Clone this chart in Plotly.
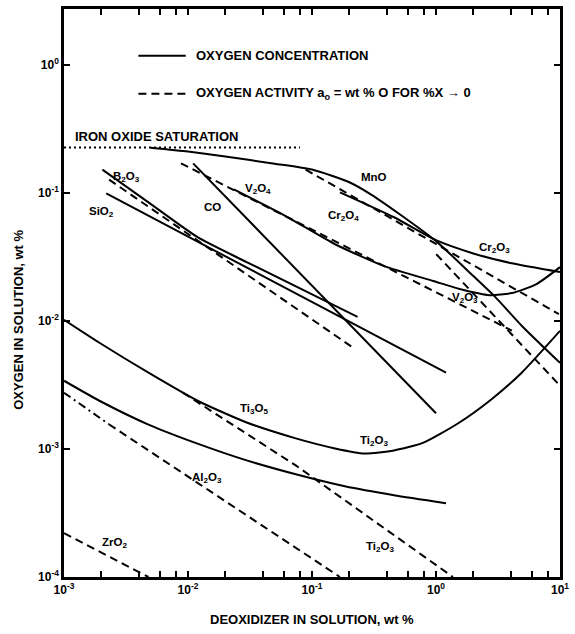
import math
import plotly.graph_objects as go

# ---------------- data (wt % deoxidizer, wt % oxygen) ----------------
fe_sat_x = [0.001, 0.08]
fe_sat_y = [0.226, 0.226]

mno_x = [0.005, 0.01, 0.02, 0.05, 0.1, 0.2, 0.3, 0.5, 1.0, 2.0, 3.0, 5.0, 10.0]
mno_y = [0.225, 0.21, 0.192, 0.169, 0.152, 0.121, 0.097, 0.069, 0.042, 0.0224, 0.0154, 0.0090, 0.0047]
mno_dash_x = [1.005, 10.0]
mno_dash_y = [0.0332, 0.00312]

cr_x = [0.168, 0.4585, 1.0, 1.97, 4.09, 10.0]
cr_y = [0.101, 0.0645, 0.0427, 0.0338, 0.0282, 0.0241]
cr_dash_x = [0.0888, 9.8]
cr_dash_y = [0.152, 0.0113]

v_x = [0.02344, 0.0617, 0.1535, 0.382, 0.951, 1.64, 2.69, 4.09, 6.46, 10.0]
v_y = [0.1064, 0.0656, 0.0397, 0.0268, 0.0205, 0.0175, 0.0159, 0.0165, 0.0194, 0.0263]
v_dash_x = [0.00877, 4.09]
v_dash_y = [0.170, 0.0084]

co_x = [0.011, 1.0]
co_y = [0.17, 0.0019]

b_x = [0.00204, 0.0048, 0.01194, 0.0297, 0.233]
b_y = [0.152, 0.0843, 0.0451, 0.0288, 0.01074]
b_dash_x = [0.00231, 0.221]
b_dash_y = [0.127, 0.00605]

si_x = [0.00219, 1.205]
si_y = [0.099, 0.00394]

ti_x = [0.001, 0.00193, 0.0048, 0.01194, 0.0297, 0.0740, 0.1535, 0.265, 0.458, 0.792, 1.50, 2.84, 4.91, 10.0]
ti_y = [0.0102, 0.00675, 0.00394, 0.00238, 0.00161, 0.00121, 0.00101, 0.000922, 0.000973, 0.00112, 0.00158, 0.00247, 0.00394, 0.00836]
ti_dash_x = [0.00908, 0.0740, 1.37]
ti_dash_y = [0.00275, 0.000744, 0.0001]

al_x = [0.001, 0.00193, 0.0048, 0.01194, 0.0297, 0.0740, 0.184, 0.458, 1.205]
al_y = [0.00341, 0.00238, 0.00155, 0.0011, 0.000814, 0.000634, 0.000511, 0.000435, 0.000377]
al_dashdot_x = [0.001, 0.0023]
al_dashdot_y = [0.00275, 0.00156]
al_dash_x = [0.0023, 0.168]
al_dash_y = [0.00156, 0.0001]

zr_dash_x = [0.001, 0.0048]
zr_dash_y = [0.00022, 0.0001]

x_major = [0.001, 0.01, 0.1, 1.0, 10.0]
x_major_text = ["10<sup>-3</sup>", "10<sup>-2</sup>", "10<sup>-1</sup>", "10<sup>0</sup>", "10<sup>1</sup>"]
x_minor = [m * 10.0 ** e for e in range(-3, 1) for m in (2, 4, 6, 8)]
y_major = [0.0001, 0.001, 0.01, 0.1, 1.0]
y_major_text = ["10<sup>-4</sup>", "10<sup>-3</sup>", "10<sup>-2</sup>", "10<sup>-1</sup>", "10<sup>0</sup>"]

labels = [
    ("B<sub>2</sub>O<sub>3</sub>", 0.00321, 0.132),
    ("SiO<sub>2</sub>", 0.0020, 0.0705),
    ("CO", 0.0157, 0.0771),
    ("V<sub>2</sub>O<sub>4</sub>", 0.037, 0.108),
    ("Cr<sub>2</sub>O<sub>4</sub>", 0.178, 0.0656),
    ("MnO", 0.318, 0.134),
    ("Cr<sub>2</sub>O<sub>3</sub>", 2.94, 0.037),
    ("V<sub>2</sub>O<sub>3</sub>", 1.71, 0.0152),
    ("Ti<sub>3</sub>O<sub>5</sub>", 0.0338, 0.00207),
    ("Ti<sub>2</sub>O<sub>3</sub>", 0.318, 0.00116),
    ("Al<sub>2</sub>O<sub>3</sub>", 0.0143, 0.000589),
    ("ZrO<sub>2</sub>", 0.00254, 0.000184),
    ("Ti<sub>2</sub>O<sub>3</sub>", 0.355, 0.000171),
]

# ---------------- figure ----------------
FONT = "Liberation Sans, Arial, sans-serif"
fig = go.Figure()

def add(x, y, dash="solid", width=2.0, name=None, shape="linear"):
    fig.add_trace(go.Scatter(x=x, y=y, mode="lines", name=name, showlegend=False,
                             line=dict(color="black", width=width, dash=dash, shape=shape, smoothing=0.6)))

add(fe_sat_x, fe_sat_y, dash="2px,3px", width=2, name="Iron oxide saturation")
solid_series = [(mno_x, mno_y, "MnO", "spline"), (cr_x, cr_y, "Cr", "spline"), (v_x, v_y, "V", "spline"),
                (co_x, co_y, "CO", "linear"), (b_x, b_y, "B2O3", "spline"), (si_x, si_y, "SiO2", "linear"),
                (ti_x, ti_y, "Ti", "spline"), (al_x, al_y, "Al2O3", "spline")]
for sx, sy, nm, shp in solid_series:
    add(sx, sy, name=nm + " concentration", shape=shp)
dash_series = [(mno_dash_x, mno_dash_y, "MnO"), (cr_dash_x, cr_dash_y, "Cr"), (v_dash_x, v_dash_y, "V"),
               (b_dash_x, b_dash_y, "B2O3"), (ti_dash_x, ti_dash_y, "Ti"), (al_dash_x, al_dash_y, "Al2O3"),
               (zr_dash_x, zr_dash_y, "ZrO2")]
for sx, sy, nm in dash_series:
    add(sx, sy, dash="8px,5px", name=nm + " activity")
add(al_dashdot_x, al_dashdot_y, dash="8px,4px,2px,4px", name="Al2O3 activity")

LBL = dict(family=FONT, size=11.5, color="black", weight="bold")
BIG = dict(family=FONT, size=13, color="black", weight="bold")
annotations = []
for txt, lx, ly in labels:
    annotations.append(dict(x=math.log10(lx), y=math.log10(ly), xref="x", yref="y", text=txt,
                            xanchor="center", yanchor="middle", showarrow=False, font=LBL))

annotations += [
    dict(x=0.018, y=0.7754, xref="paper", yref="paper", text="IRON OXIDE SATURATION",
         xanchor="left", yanchor="middle", showarrow=False, font=BIG),
    dict(x=0.263, y=0.9175, xref="paper", yref="paper", text="OXYGEN CONCENTRATION",
         xanchor="left", yanchor="middle", showarrow=False, font=BIG),
    dict(x=0.263, y=0.851, xref="paper", yref="paper",
         text="OXYGEN ACTIVITY a<sub>o</sub> = wt % O FOR %X \u2192 0",
         xanchor="left", yanchor="middle", showarrow=False, font=BIG),
    dict(x=-0.0911, y=0.4526, xref="paper", yref="paper", text="OXYGEN IN SOLUTION, wt %", textangle=-90,
         xanchor="center", yanchor="middle", showarrow=False, font=BIG),
    dict(x=0.501, y=-0.0754, xref="paper", yref="paper", text="DEOXIDIZER IN SOLUTION, wt %",
         xanchor="center", yanchor="middle", showarrow=False, font=BIG),
]

shapes = [
    dict(type="line", xref="paper", yref="paper", x0=0.150, x1=0.2455, y0=0.9175, y1=0.9175,
         line=dict(color="black", width=2)),
    dict(type="line", xref="paper", yref="paper", x0=0.150, x1=0.2455, y0=0.851, y1=0.851,
         line=dict(color="black", width=2, dash="8px,5px")),
]

TICKF = dict(family=FONT, size=12, color="black", weight="bold")
fig.update_layout(
    width=575, height=634,
    margin=dict(l=64, r=6, t=7, b=57),
    paper_bgcolor="white", plot_bgcolor="white",
    annotations=annotations, shapes=shapes,
    showlegend=False,
    xaxis=dict(type="log", range=[-3, 1], tickmode="array", tickvals=x_major, ticktext=x_major_text,
               ticks="inside", ticklen=6, tickwidth=2, tickcolor="black", ticklabeloverflow="allow",
               minor=dict(tickmode="array", tickvals=x_minor, ticks="inside", ticklen=6, tickwidth=2,
                          tickcolor="black", showgrid=False),
               showline=True, linecolor="black", linewidth=2.5, mirror="ticks",
               showgrid=False, zeroline=False, tickfont=TICKF),
    yaxis=dict(type="log", range=[-4, 0.436], tickmode="array", tickvals=y_major, ticktext=y_major_text,
               ticks="inside", ticklen=6, tickwidth=2, tickcolor="black",
               showline=True, linecolor="black", linewidth=2.5, mirror="ticks",
               showgrid=False, zeroline=False, tickfont=TICKF),
)

fig.write_html("out.html")
